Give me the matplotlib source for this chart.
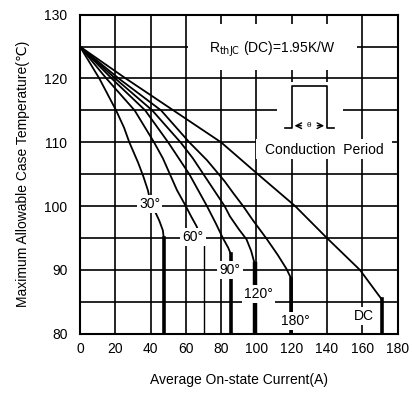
import matplotlib
matplotlib.use('Agg')
import matplotlib.pyplot as plt
from matplotlib.patches import Rectangle

plt.rcParams['font.family'] = ['Liberation Sans', 'DejaVu Sans']

# 読み取った曲線データ (電流A, ケース温度℃)
cur_30 = [0, 11, 20.5, 25, 28, 33, 36, 38.5, 40, 42.5, 45, 47, 47.5]
tc_30 = [125, 120, 115, 112.3, 110, 106.8, 104.6, 102.5, 100.6, 99.2, 97.7, 96.2, 95]

cur_60 = [0, 15, 31, 42, 47, 51, 55, 60, 63, 66, 68, 70.3]
tc_60 = [125, 120, 115, 110, 107.5, 105, 102.5, 100, 98.4, 96.9, 95.6, 94.2]

cur_90 = [0, 18, 37, 50, 56, 62, 67, 72, 77, 81, 84, 85.5]
tc_90 = [125, 120, 115, 110, 107.5, 105, 102.5, 100, 97.3, 95, 93.5, 92.5]

cur_120 = [0, 20, 41, 57, 64, 70, 76, 82, 85, 90, 94.4, 97, 99]
tc_120 = [125, 120, 115, 110, 107.5, 105, 102.5, 100, 98.4, 96.4, 94.8, 93, 91]

cur_180 = [0, 22, 46, 62, 72, 82, 87, 92.5, 98, 105.5, 112, 117, 119.8]
tc_180 = [125, 120, 115, 110, 107.2, 103.9, 102, 100, 97.8, 95, 92.4, 90.2, 88.6]

cur_dc = [0, 26, 53, 80, 100, 122, 140, 158.7, 171]
tc_dc = [125, 120, 115, 110, 105.2, 100, 95, 90, 85.4]

curves = [(cur_30, tc_30), (cur_60, tc_60), (cur_90, tc_90),
          (cur_120, tc_120), (cur_180, tc_180), (cur_dc, tc_dc)]
drop_width = [2.6, 1.0, 2.6, 3.2, 2.6, 2.6]

labels = ['30°', '60°', '90°', '120°', '180°', 'DC']
label_x = [39.5, 64, 85, 101, 122, 161]
label_y = [100.3, 95.2, 90, 86.2, 82, 82.8]

# 導通期間の記号
pulse_x = [116, 120, 120, 140, 140, 144]
pulse_y = [112.3, 112.3, 118.8, 118.8, 112.3, 112.3]

fig = plt.figure(figsize=(4.12, 3.96), dpi=100)
ax = fig.add_axes([0.194, 0.157, 0.771, 0.806])

ax.set_xlim(0, 180)
ax.set_ylim(80, 130)
ax.set_xticks(range(0, 181, 20))
ax.set_yticks(range(80, 131, 10))
ax.set_yticks(range(85, 130, 10), minor=True)
ax.grid(True, which='both', color='black', linewidth=1.2)
ax.set_axisbelow(True)
ax.tick_params(which='both', length=0, labelsize=10)
ax.tick_params(axis='y', pad=9)
ax.tick_params(axis='x', pad=6)
for s in ax.spines.values():
    s.set_linewidth(1.5)

# グリッドを隠す白い領域
ax.add_patch(Rectangle((61, 121.4), 96, 7.1, facecolor='white', edgecolor='none', zorder=1))
ax.add_patch(Rectangle((111.6, 107.4), 37.4, 12.1, facecolor='white', edgecolor='none', zorder=1))
ax.add_patch(Rectangle((100, 107.4), 77, 3.1, facecolor='white', edgecolor='none', zorder=1))

for (c, t), w in zip(curves, drop_width):
    ax.plot(c, t, color='black', linewidth=1.3, zorder=3)
    ax.plot([c[-1], c[-1]], [t[-1], 80], color='black', linewidth=w, zorder=3)

for lab, lx, ly in zip(labels, label_x, label_y):
    ax.text(lx, ly, lab, fontsize=10, ha='center', va='center', zorder=5,
            bbox=dict(facecolor='white', edgecolor='none', pad=1.5))

ax.text(109, 124.6, r'R$_{\rm thJC}$ (DC)=1.95K/W', fontsize=10,
        ha='center', va='center', zorder=5)

ax.plot(pulse_x, pulse_y, color='black', linewidth=1.2, zorder=4)
ax.annotate('', xy=(120, 112.6), xytext=(127, 112.6),
            arrowprops=dict(arrowstyle='->', color='black', lw=1), zorder=4)
ax.annotate('', xy=(140, 112.6), xytext=(133, 112.6),
            arrowprops=dict(arrowstyle='->', color='black', lw=1), zorder=4)
ax.text(130, 112.6, 'θ', fontsize=6, ha='center', va='center', zorder=4)

ax.text(138.5, 108.8, 'Conduction  Period', fontsize=10, ha='center', va='center', zorder=5)

ax.set_xlabel('Average On-state Current(A)', fontsize=10, labelpad=12)
ax.set_ylabel('Maximum Allowable Case Temperature(℃)', fontsize=10, labelpad=10)

fig.savefig('out.png', dpi=100)
